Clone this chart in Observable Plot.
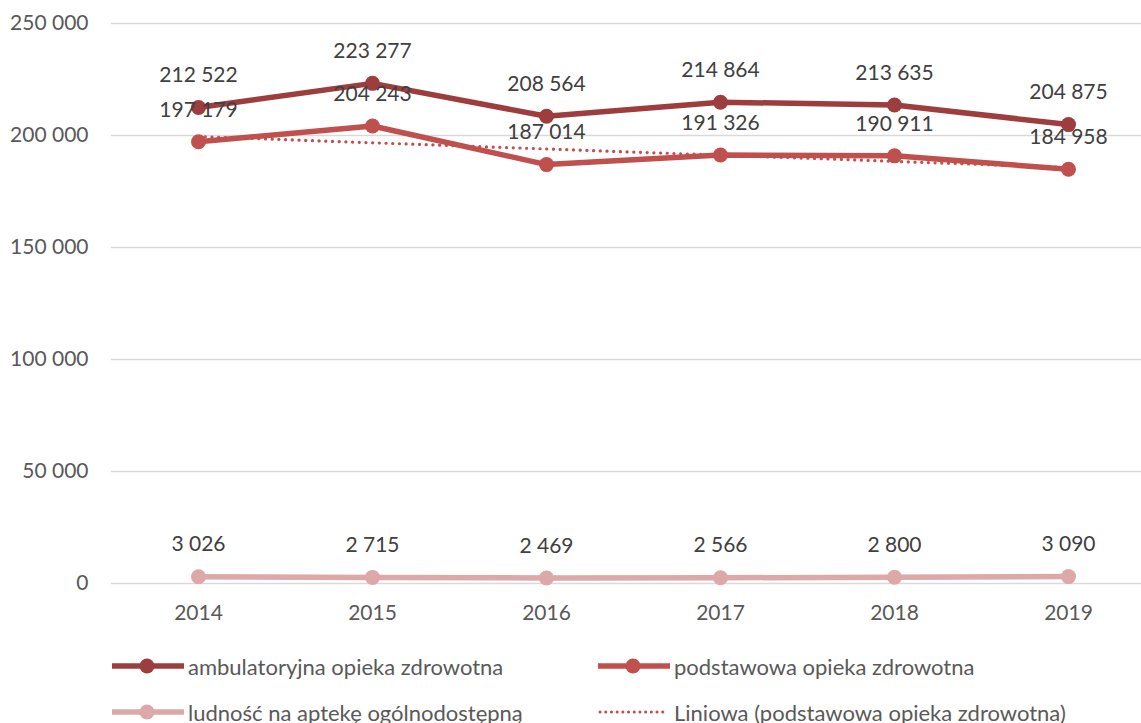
<!DOCTYPE html>
<html>
<head>
<meta charset="utf-8">
<script src="https://cdn.jsdelivr.net/npm/d3@7"></script>
<script src="https://cdn.jsdelivr.net/npm/@observablehq/plot@0.6"></script>
<style>
  body { margin: 0; background: #fff; font-family: Lato, "Open Sans", sans-serif; }
  #wrap { position: relative; width: 1141px; height: 723px; overflow: hidden; }
  .leg { position: absolute; display: flex; align-items: center; font-size: 22px; color: #595959; white-space: nowrap; }
  .leg svg { display: block; margin-right: 4px; }
</style>
</head>
<body>
<div id="wrap"></div>
<script>
const years = [2014, 2015, 2016, 2017, 2018, 2019];
const ambulatoryjna = [212522, 223277, 208564, 214864, 213635, 204875];
const podstawowa = [197179, 204243, 187014, 191326, 190911, 184958];
const ludnosc = [3026, 2715, 2469, 2566, 2800, 3090];
const yTicks = [0, 50000, 100000, 150000, 200000, 250000];
const seriesNames = ["ambulatoryjna opieka zdrowotna", "podstawowa opieka zdrowotna", "ludność na aptekę ogólnodostępną"];
const trendName = "Liniowa (podstawowa opieka zdrowotna)";
const colors = ["#9E3D3D", "#C0504D", "#DDA8A8"];
const trendColor = "#C0504D";

const locale = d3.formatLocale({decimal: ",", thousands: " ", grouping: [3], currency: ["", ""]});
const fmt = locale.format(",d");

const seriesValues = [ambulatoryjna, podstawowa, ludnosc];
const sets = seriesValues.map((vals, i) => years.map((y, j) => ({year: y, value: vals[j], series: seriesNames[i]})));

const marks = [
  Plot.gridY(yTicks, {stroke: "#d9d9d9", strokeOpacity: 1, strokeWidth: 1.5}),
  Plot.axisY(yTicks, {tickSize: 0, tickPadding: 23, tickFormat: fmt, fontSize: 21, fill: "#595959", label: null}),
  Plot.axisX(years, {tickSize: 0, tickPadding: 22, tickFormat: d => String(d), fontSize: 21, fill: "#595959", label: null})
];
sets.forEach((data, i) => {
  marks.push(Plot.lineY(data, {x: "year", y: "value", stroke: colors[i], strokeWidth: 5.5}));
  marks.push(Plot.dot(data, {x: "year", y: "value", fill: colors[i], r: 7.5}));
});
marks.push(Plot.linearRegressionY(sets[1], {x: "year", y: "value", stroke: trendColor, strokeWidth: 3.2, strokeDasharray: "0.1,6.6", strokeLinecap: "round", ci: 0}));
sets.forEach((data) => {
  marks.push(Plot.text(data, {x: "year", y: "value", text: d => fmt(d.value), dy: -32, fontSize: 21, fill: "#404040", textAnchor: "middle", lineAnchor: "middle"}));
});

const chart = Plot.plot({
  width: 1141,
  height: 640,
  marginTop: 23,
  marginBottom: 57,
  marginLeft: 111,
  marginRight: 0,
  style: {fontFamily: "Lato, 'Open Sans', sans-serif", background: "white", overflow: "visible"},
  x: {type: "linear", domain: [2013.5, 2019.5], range: [111, 1155]},
  y: {domain: [0, 250000], range: [583, 23]},
  marks
});
const wrap = document.getElementById("wrap");
wrap.appendChild(chart);

// legend
const legendItems = [
  {name: seriesNames[0], color: colors[0], dotted: false, left: 112, top: 666},
  {name: seriesNames[1], color: colors[1], dotted: false, left: 598, top: 666},
  {name: seriesNames[2], color: colors[2], dotted: false, left: 112, top: 712},
  {name: trendName, color: trendColor, dotted: true, left: 598, top: 712}
];
legendItems.forEach(it => {
  const div = document.createElement("div");
  div.className = "leg";
  div.style.left = it.left + "px";
  div.style.top = (it.top - 14) + "px";
  div.style.height = "28px";
  const line = it.dotted
    ? `<line x1="2" y1="14" x2="70" y2="14" stroke="${it.color}" stroke-width="3" stroke-dasharray="0.1,5.6" stroke-linecap="round"/>`
    : `<line x1="0" y1="14" x2="72" y2="14" stroke="${it.color}" stroke-width="5.5"/><circle cx="35" cy="14" r="7.5" fill="${it.color}"/>`;
  div.innerHTML = `<svg width="72" height="28">${line}</svg><span>${it.name}</span>`;
  wrap.appendChild(div);
});
</script>
</body>
</html>
